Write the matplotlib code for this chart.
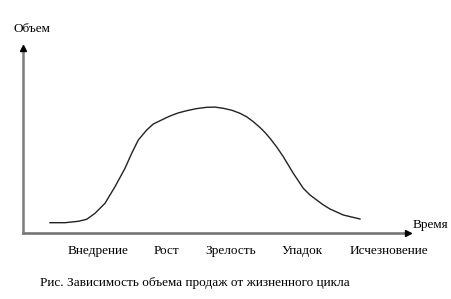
import matplotlib.pyplot as plt

plt.rcParams['font.family'] = ['Liberation Serif', 'DejaVu Serif']

# curve (time, volume)
time = [27, 42, 55.3, 63.7, 72, 82, 92, 102, 108.7, 115.3, 123.7, 130.3,
        140, 147, 155, 163.7, 173, 183.7, 192, 200.3, 209, 217, 224, 230.3,
        237, 242, 247, 253.7, 260.3, 270.3, 280.3, 287, 293.7, 300, 307,
        320.3, 337]
volume = [10.3, 10.3, 11.7, 13.7, 19.7, 29.7, 46.3, 64.7, 79.7, 93, 103, 109,
          113.7, 117, 120, 122.3, 124.3, 125.7, 125.9, 124.7, 122.7, 119.7,
          116, 111.3, 105.5, 100.5, 94.7, 86, 76.3, 59.7, 44.7, 38, 33, 28.3,
          24, 18, 14]

stages = ['Внедрение', 'Рост', 'Зрелость', 'Упадок', 'Исчезновение']
stage_pos = [75, 143, 208, 279, 366]

W, H = 452, 299
fig = plt.figure(figsize=(W / 100, H / 100), dpi=100)
ax = fig.add_axes([23 / W, 66 / H, 387 / W, 188 / H])
ax.set_xlim(0, 387)
ax.set_ylim(0, 188)
ax.axis('off')

ax.plot(time, volume, color='#222222', lw=1.0, solid_joinstyle='round')

# axes with arrowheads
ax.plot([0, 383], [0, 0], color='#6e6e6e', lw=1.8, clip_on=False)
ax.plot([0, 0], [0, 184], color='#7a7a7a', lw=1.8, clip_on=False)
ax.plot([385], [0], marker='>', color='black', ms=5, clip_on=False)
ax.plot([0], [185], marker='^', color='black', ms=5, clip_on=False)

fs = 9.5
ax.text(-10, 204, 'Объем', fontsize=fs, ha='left', va='center', clip_on=False)
ax.text(390, 8, 'Время', fontsize=fs, ha='left', va='center', clip_on=False)
for name, x in zip(stages, stage_pos):
    ax.text(x, -18, name, fontsize=fs, ha='center', va='center')

fig.text(195 / W, 1 - 283 / H, 'Рис. Зависимость объема продаж от жизненного цикла',
         fontsize=fs, ha='center', va='center')

fig.savefig('out.png', dpi=100)
